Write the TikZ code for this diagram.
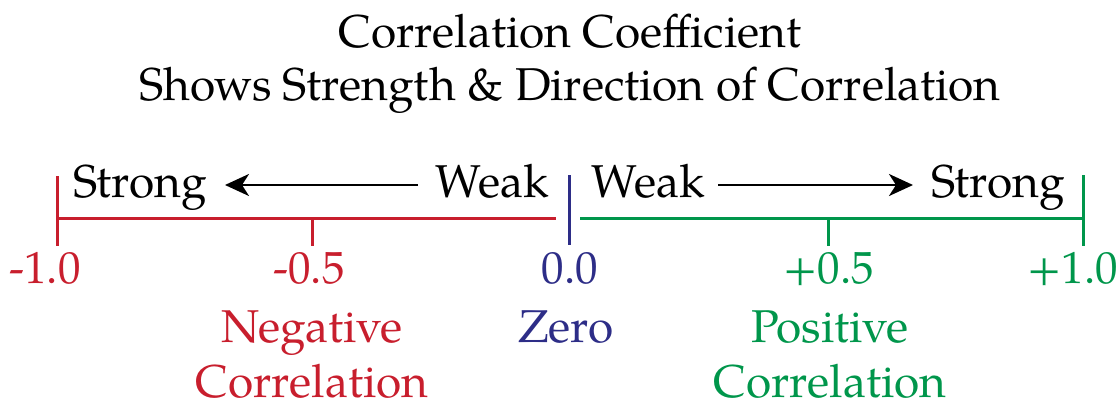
\documentclass[tikz,border=0pt]{standalone}
\usepackage{fontspec}
\setmainfont{texgyrepagella}[Extension=.otf,UprightFont=*-regular]
\usetikzlibrary{arrows.meta}
\definecolor{negred}{RGB}{200,30,45}
\definecolor{posgreen}{RGB}{0,150,75}
\definecolor{zeroblue}{RGB}{45,45,135}
\tikzset{
  axisline/.style={line width=3pt},
  dirarrow/.style={line width=2.6pt,-{Stealth[length=24pt,width=22pt,inset=7pt]}},
  word/.style={font=\fontsize{46}{52}\selectfont,inner sep=0pt},
  lab/.style={font=\fontsize{45}{55}\selectfont,inner sep=0pt,align=center},
  ttl/.style={font=\fontsize{46}{53}\selectfont,inner sep=0pt,align=center}
}
\begin{document}
\begin{tikzpicture}[x=1pt,y=-1pt]
\useasboundingbox (0,0) rectangle (1120,400);
% title
\node[ttl,anchor=base] (title) at (570,100) {Correlation Coefficient\\Shows Strength \& Direction of Correlation};
% coordinates
\coordinate (nL) at (57,218);
\coordinate (nR) at (556,218);
\coordinate (nLt) at (57,176);
\coordinate (nLb) at (57,246);
\coordinate (nHt) at (312,218);
\coordinate (nHb) at (312,246);
\coordinate (zT) at (569,175);
\coordinate (zB) at (569,245);
\coordinate (pL) at (580,218);
\coordinate (pR) at (1083,218);
\coordinate (pRt) at (1083,175);
\coordinate (pRb) at (1083,246);
\coordinate (pHt) at (828,218);
\coordinate (pHb) at (828,246);
% negative axis
\draw[axisline,negred] (nL) -- (nR);
\draw[axisline,negred] (nLt) -- (nLb);
\draw[axisline,negred] (nHt) -- (nHb);
% zero
\draw[axisline,zeroblue] (zT) -- (zB);
% positive axis
\draw[axisline,posgreen] (pL) -- (pR);
\draw[axisline,posgreen] (pRt) -- (pRb);
\draw[axisline,posgreen] (pHt) -- (pHb);
% words
\node[word,anchor=base] (sL) at (140,197) {Strong};
\node[word,anchor=base] (wL) at (492,197) {Weak};
\node[word,anchor=base] (wR) at (648,197) {Weak};
\node[word,anchor=base] (sR) at (998,197) {Strong};
\coordinate (aLs) at (418,185);
\coordinate (aLe) at (225,185);
\coordinate (aRs) at (718,185);
\coordinate (aRe) at (913,185);
\draw[dirarrow] (aLs) -- (aLe);
\draw[dirarrow] (aRs) -- (aRe);
% tick labels
\node[lab,negred,anchor=base] (m1) at (45,283) {-1.0};
\node[lab,negred,anchor=base] (m05) at (309,283) {-0.5};
\node[lab,zeroblue,anchor=base] (z0) at (570,283) {0.0};
\node[lab,posgreen,anchor=base] (p05) at (829,283) {+0.5};
\node[lab,posgreen,anchor=base] (p1) at (1073,283) {+1.0};
% category labels
\node[lab,negred,anchor=base,font=\fontsize{46}{55}\selectfont] (neg) at (312,397) {Negative\\Correlation};
\node[lab,zeroblue,anchor=base,font=\fontsize{46}{55}\selectfont] (zero) at (566,342) {Zero};
\node[lab,posgreen,anchor=base,font=\fontsize{46}{55}\selectfont] (pos) at (830,397) {Positive\\Correlation};
\end{tikzpicture}
\end{document}
